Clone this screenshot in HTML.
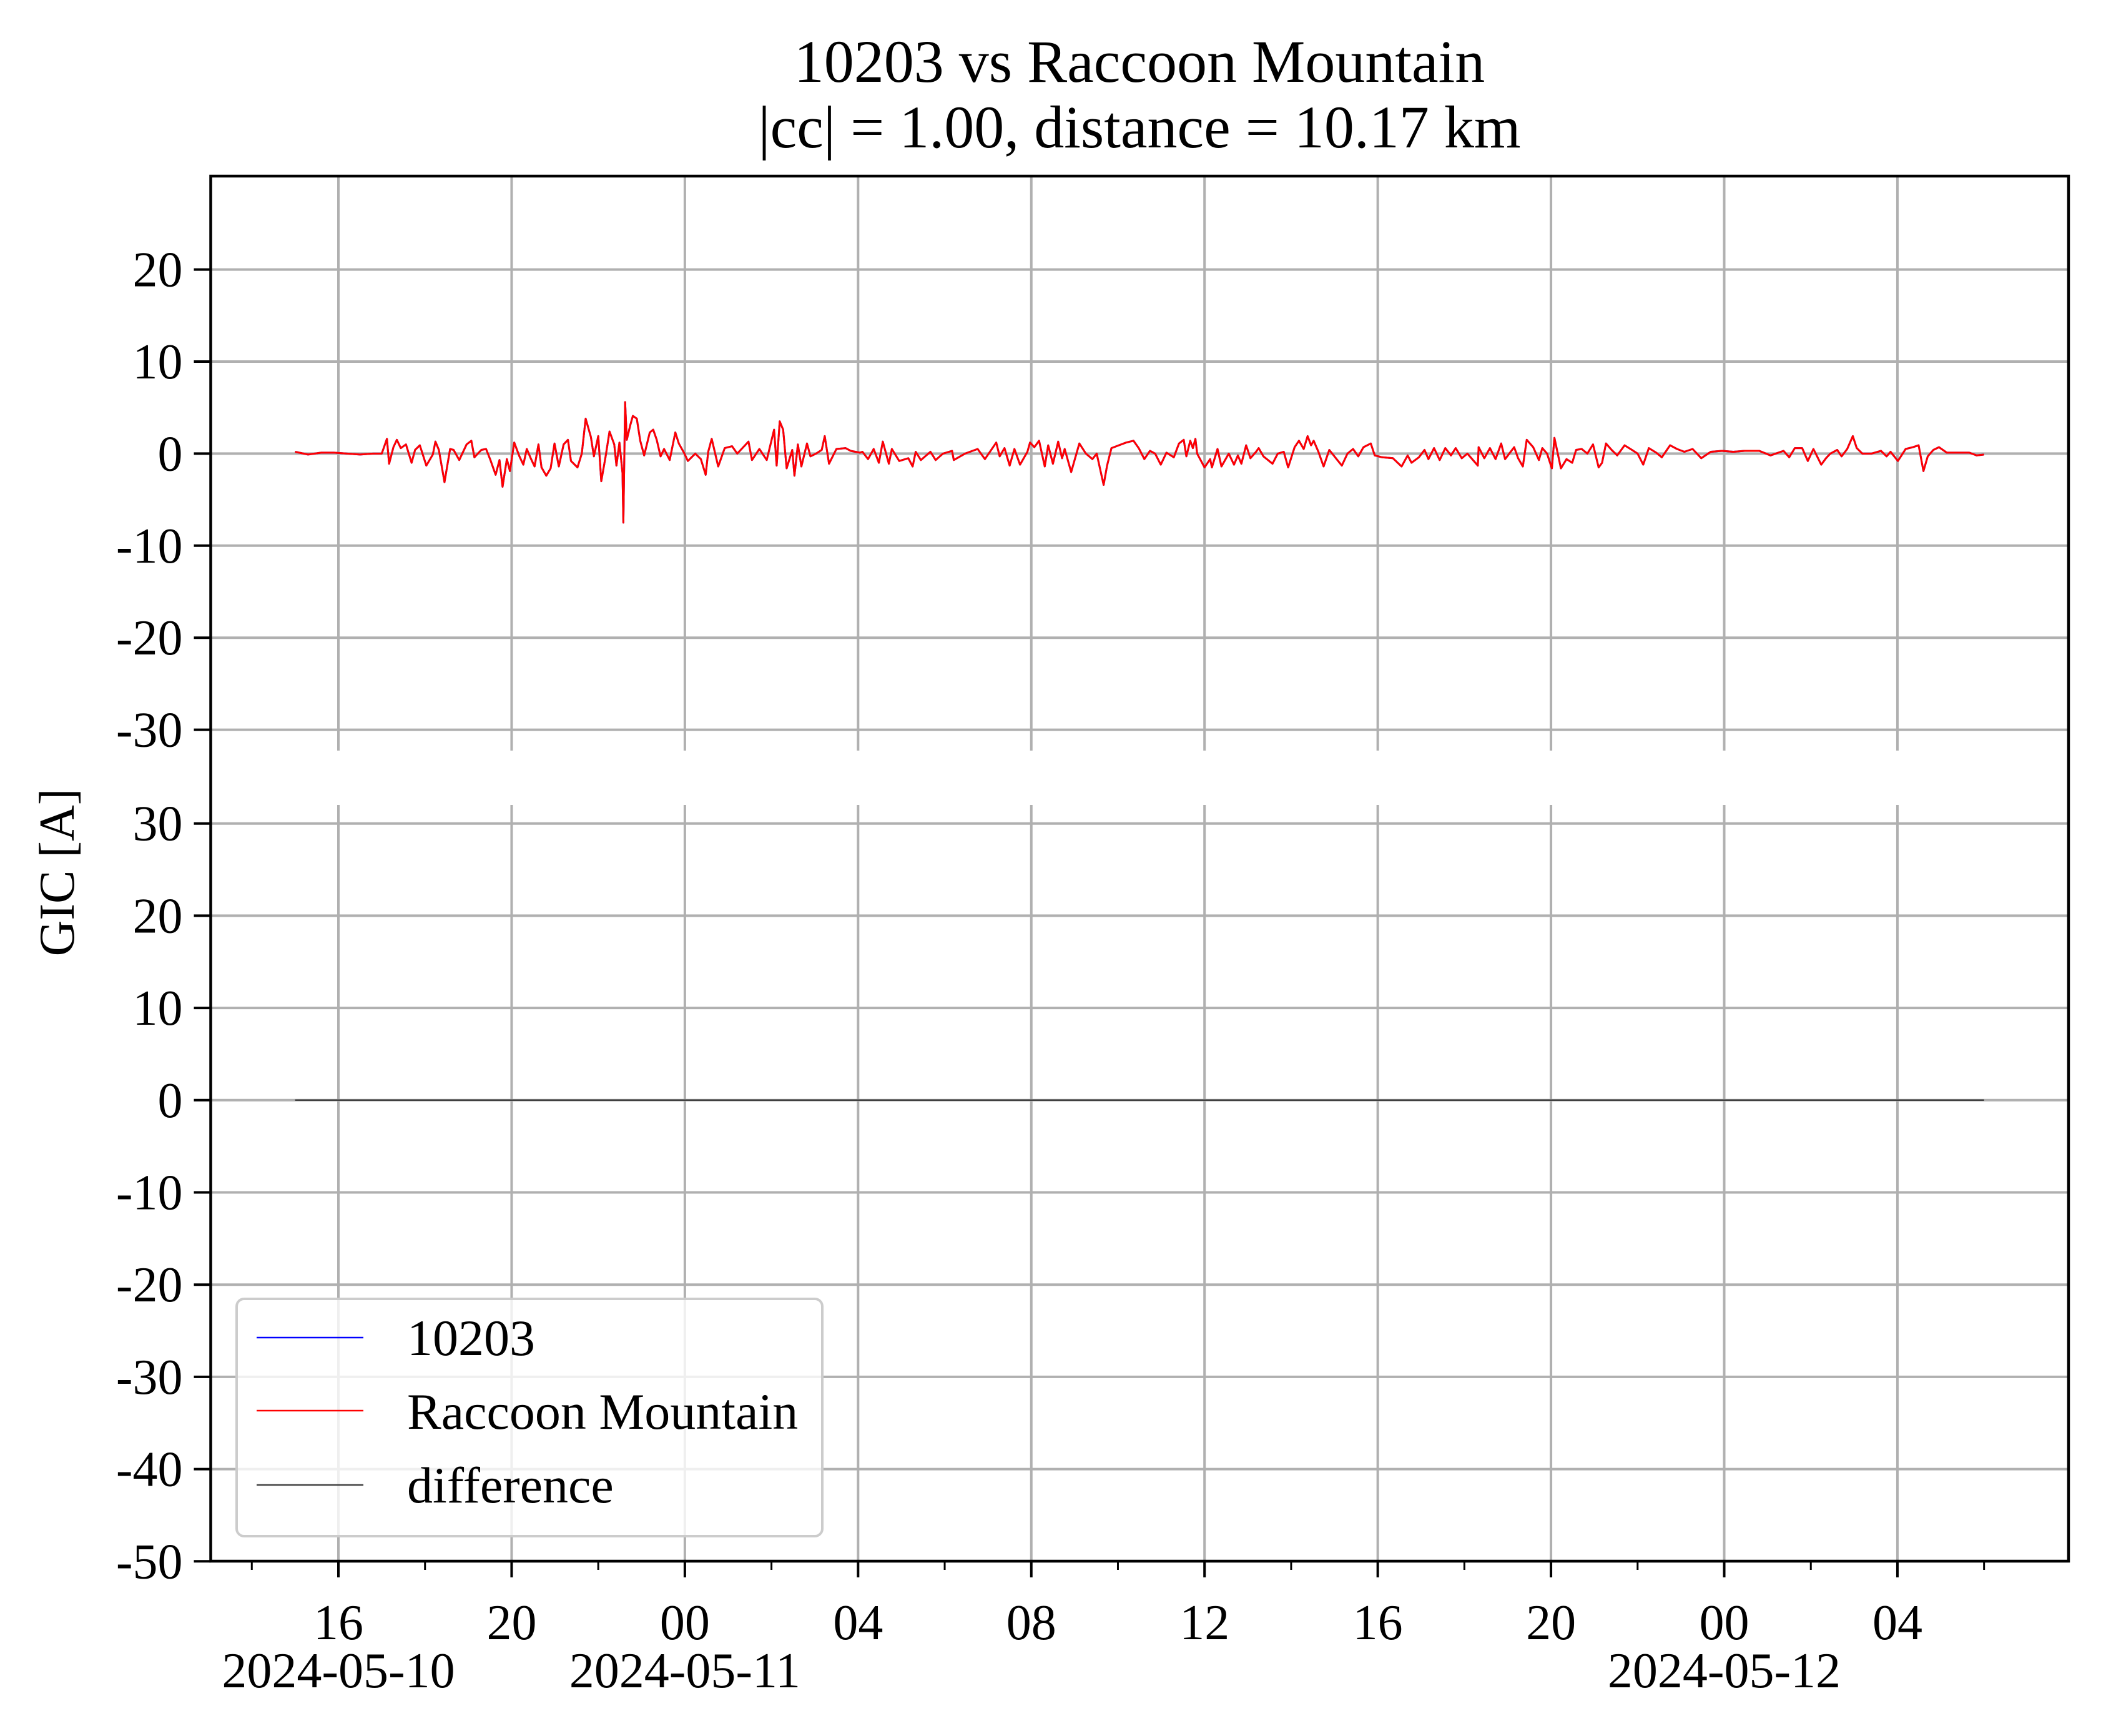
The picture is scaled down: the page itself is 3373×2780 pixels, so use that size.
<!DOCTYPE html>
<html><head><meta charset="utf-8">
<style>
html,body{margin:0;padding:0;background:#fff;}
svg{display:block;font-family:"Liberation Serif","Times New Roman",serif;}
</style></head>
<body>
<svg id="chart" width="3373" height="2780" viewBox="0 0 3373 2780" xmlns="http://www.w3.org/2000/svg">
<rect x="0" y="0" width="3373" height="2780" fill="#fff"/>
<text x="1825" y="131" font-size="96" text-anchor="middle">10203 vs Raccoon Mountain</text>
<text x="1825" y="236" font-size="96" text-anchor="middle">|cc| = 1.00, distance = 10.17 km</text>
<text transform="translate(118,1397) rotate(-90)" font-size="80" text-anchor="middle">GIC [A]</text>
<g id="grid"></g>
<g id="series"></g>
<g id="axes"></g>
<g id="legend">
  <rect x="379" y="2080" width="938" height="380" rx="12" fill="#fff" fill-opacity="0.8" stroke="#cccccc" stroke-width="4"/>
  <line x1="411" y1="2142" x2="582" y2="2142" stroke="#0000ff" stroke-width="2.5"/>
  <text x="652" y="2170" font-size="82">10203</text>
  <line x1="411" y1="2259" x2="582" y2="2259" stroke="#ff0000" stroke-width="2.5"/>
  <text x="652" y="2288" font-size="82">Raccoon Mountain</text>
  <line x1="411" y1="2378" x2="582" y2="2378" stroke="#404040" stroke-width="2.5"/>
  <text x="652" y="2406" font-size="82">difference</text>
</g>
</svg>
<script>
// hours since 2024-05-10 15:00
const times = [0,0.3,0.6,0.9,1.2,1.5,1.8,2.0,2.12,2.17,2.27,2.35,2.44,2.56,2.69,2.77,2.88,3.03,3.18,3.24,3.32,3.45,3.58,3.66,3.79,3.96,4.07,4.14,4.30,4.41,4.51,4.63,4.72,4.79,4.89,4.96,5.06,5.18,5.27,5.35,5.44,5.53,5.62,5.69,5.80,5.90,5.99,6.09,6.20,6.30,6.37,6.52,6.62,6.71,6.83,6.90,7.00,7.07,7.17,7.26,7.37,7.42,7.49,7.56,7.58,7.62,7.66,7.74,7.80,7.89,7.97,8.06,8.19,8.27,8.35,8.44,8.52,8.65,8.78,8.86,8.99,9.07,9.24,9.37,9.48,9.54,9.62,9.77,9.92,10.09,10.21,10.47,10.55,10.72,10.89,11.06,11.12,11.19,11.27,11.35,11.48,11.53,11.61,11.69,11.82,11.90,12.03,12.16,12.23,12.33,12.50,12.71,12.83,13.04,13.10,13.23,13.36,13.48,13.57,13.71,13.78,13.95,14.16,14.26,14.33,14.45,14.67,14.79,14.96,15.17,15.21,15.47,15.76,15.93,16.19,16.27,16.38,16.50,16.61,16.74,16.91,16.97,17.07,17.18,17.31,17.39,17.50,17.62,17.71,17.77,17.92,18.11,18.26,18.41,18.51,18.60,18.67,18.75,18.85,19.02,19.19,19.36,19.48,19.61,19.74,19.86,19.99,20.12,20.29,20.41,20.52,20.58,20.67,20.73,20.79,20.83,21.00,21.13,21.17,21.30,21.39,21.56,21.68,21.77,21.85,21.96,22.06,22.19,22.25,22.36,22.57,22.69,22.83,22.93,23.08,23.18,23.29,23.38,23.46,23.52,23.63,23.75,23.88,24.05,24.17,24.30,24.43,24.55,24.67,24.84,24.93,25.10,25.35,25.55,25.69,25.78,25.95,26.08,26.17,26.30,26.43,26.56,26.69,26.80,26.94,27.07,27.31,27.33,27.46,27.59,27.72,27.85,27.94,28.15,28.24,28.35,28.44,28.59,28.72,28.80,28.91,29.02,29.08,29.23,29.36,29.49,29.58,29.71,29.84,29.97,30.10,30.18,30.27,30.40,30.53,30.70,30.87,31.00,31.13,31.26,31.43,31.56,31.75,31.91,32.08,32.27,32.47,32.69,32.95,33.21,33.47,33.81,34.07,34.37,34.50,34.63,34.80,34.93,35.06,35.24,35.35,35.45,35.61,35.71,35.84,35.97,36.06,36.19,36.40,36.62,36.75,36.84,37.01,37.19,37.36,37.49,37.60,37.70,37.83,37.96,38.14,38.40,38.66,38.83,39.00];
const raccoon = [0.2,-0.1,0.1,0.1,0.0,-0.1,0.0,0.0,1.6,-1.1,0.7,1.5,0.6,1.0,-1.0,0.4,0.9,-1.3,-0.1,1.3,0.4,-3.1,0.5,0.4,-0.7,1.0,1.4,-0.4,0.4,0.5,-0.7,-2.3,-0.7,-3.6,-0.6,-1.9,1.2,-0.3,-1.2,0.5,-0.5,-1.4,1.0,-1.5,-2.4,-1.6,1.1,-1.4,1.0,1.5,-0.8,-1.5,0.0,3.8,1.8,-0.3,1.9,-3.0,-0.3,2.4,1.0,-1.3,1.2,-2.1,-7.5,5.6,1.5,3.1,4.1,3.8,1.4,-0.2,2.3,2.6,1.5,-0.3,0.5,-0.7,2.3,1.1,0.0,-0.8,0.0,-0.6,-2.3,0.2,1.6,-1.4,0.6,0.8,0.0,1.3,-0.7,0.5,-0.7,2.6,-1.3,3.5,2.6,-1.6,0.4,-2.4,1.0,-1.4,1.1,-0.3,0.0,0.4,1.9,-1.1,0.5,0.6,0.3,0.1,0.2,-0.6,0.5,-1.0,1.3,-1.1,0.5,-0.8,-0.5,-1.4,0.2,-0.7,0.2,-0.7,0.0,0.3,-0.7,0.0,0.5,-0.6,1.2,-0.3,0.6,-1.3,0.5,-1.2,0.2,1.2,0.7,1.4,-1.4,0.9,-1.1,1.3,-0.5,0.5,-2.0,1.1,0.0,-0.6,0.0,-1.9,-3.4,-1.3,0.6,0.9,1.2,1.4,0.6,-0.6,0.3,0.0,-1.2,0.1,-0.4,1.1,1.5,-0.3,1.4,0.6,1.6,0.0,-1.5,-0.6,-1.5,0.5,-1.4,0.0,-1.2,-0.2,-1.1,0.9,-0.5,0.2,0.6,-0.3,-1.1,0.0,0.2,-1.5,0.7,1.4,0.5,1.9,0.9,1.4,0.2,-1.4,0.4,-0.6,-1.3,0.0,0.5,-0.3,0.7,1.1,-0.2,-0.4,-0.5,-1.4,-0.2,-1.0,-0.4,0.4,-0.6,0.6,-0.7,0.6,-0.2,0.6,-0.5,0.0,-1.3,0.7,-0.5,0.6,-0.6,1.1,-0.6,0.7,-0.5,-1.4,1.5,0.7,-0.7,0.6,0.0,-1.6,1.7,-1.6,-0.6,-1.0,0.4,0.5,0.0,1.0,-1.5,-1.0,1.1,0.4,-0.2,0.9,0.4,0.0,-1.2,0.6,0.1,-0.4,0.9,0.5,0.2,0.5,-0.5,0.2,0.3,0.2,0.3,0.3,-0.2,0.3,-0.4,0.6,0.6,-0.8,0.5,-1.2,-0.5,0.0,0.4,-0.3,0.5,1.9,0.6,0.0,0.0,0.3,-0.3,0.2,-0.8,0.5,0.7,0.9,-1.9,-0.3,0.4,0.7,0.1,0.1,0.1,-0.2,-0.1];
const site10203 = raccoon.slice();
const difference = raccoon.map((v,i)=>v - site10203[i]);
const topTicks = [20,10,0,-10,-20,-30];
const bottomTicks = [30,20,10,0,-10,-20,-30,-40,-50];
const majorHours = [1,5,9,13,17,21,25,29,33,37];
const majorLabels = ["16","20","00","04","08","12","16","20","00","04"];
const minorHours = [-1,3,7,11,15,19,23,27,31,35,39];
const dateHours = [1,9,33];
const dateLabels = ["2024-05-10","2024-05-11","2024-05-12"];

const NS="http://www.w3.org/2000/svg";
const L=337.5, R=3313, T=282, B=2500;
const X = h => 542 + (h-1)*69.36;
const Ytop = v => 726.4 - v*14.74;
const Ybot = v => 1761.8 - v*14.77;
function mk(tag, attrs, parent){const e=document.createElementNS(NS,tag);for(const k in attrs)e.setAttribute(k,attrs[k]);parent.appendChild(e);return e;}
const grid=document.getElementById('grid'), series=document.getElementById('series'), axes=document.getElementById('axes');

majorHours.forEach(h=>{
  let g1=mk('line',{x1:X(h),x2:X(h),y1:T,y2:1202,stroke:'#b0b0b0','stroke-width':4},grid);
  
  
  let g2=mk('line',{x1:X(h),x2:X(h),y1:1289,y2:B,stroke:'#b0b0b0','stroke-width':4},grid);
  
  
});
topTicks.forEach(v=>{
  const y=Ytop(v);
  let g=mk('line',{x1:L,x2:R,y1:y,y2:y,stroke:'#b0b0b0','stroke-width':4},grid);
  
  
  let t=mk('line',{x1:L-27,x2:L,y1:y,y2:y,stroke:'#000','stroke-width':4},axes);
  
  
  let tx=mk('text',{x:L-45,y:y+27,'font-size':80,'text-anchor':'end'},axes);
  tx.textContent=String(v);
  
  
});
bottomTicks.forEach(v=>{
  const y=Ybot(v);
  let g=mk('line',{x1:L,x2:R,y1:y,y2:y,stroke:'#b0b0b0','stroke-width':4},grid);
  
  
  let t=mk('line',{x1:L-27,x2:L,y1:y,y2:y,stroke:'#000','stroke-width':4},axes);
  
  
  let tx=mk('text',{x:L-45,y:y+27,'font-size':80,'text-anchor':'end'},axes);
  tx.textContent=String(v);
  
  
});
function path(xs, ys, yf){return xs.map((h,i)=>(i?'L':'M')+X(h).toFixed(1)+','+yf(ys[i]).toFixed(1)).join('');}
let pb=mk('path',{d:path(times,site10203,Ytop),fill:'none',stroke:'#0000ff','stroke-width':3,'stroke-linejoin':'round'},series);


let pr=mk('path',{d:path(times,raccoon,Ytop),fill:'none',stroke:'#ff0000','stroke-width':3,'stroke-linejoin':'round'},series);


let pd=mk('path',{d:path(times,difference,Ybot),fill:'none',stroke:'#404040','stroke-width':2.5},series);



let fr=mk('rect',{x:L,y:T,width:R-L,height:B-T,fill:'none',stroke:'#000','stroke-width':4.5},axes);


majorHours.forEach((h,i)=>{
  let t=mk('line',{x1:X(h),x2:X(h),y1:B,y2:B+26,stroke:'#000','stroke-width':4},axes);
  
  
  let tx=mk('text',{x:X(h),y:2625,'font-size':80,'text-anchor':'middle'},axes);
  tx.textContent=majorLabels[i];
  
  
});
minorHours.forEach(h=>{
  let t=mk('line',{x1:X(h),x2:X(h),y1:B,y2:B+14,stroke:'#000','stroke-width':3},axes);
  
  
});
dateHours.forEach((h,i)=>{
  let tx=mk('text',{x:X(h),y:2702,'font-size':80,'text-anchor':'middle'},axes);
  tx.textContent=dateLabels[i];
  
  
});
</script>
</body></html>
